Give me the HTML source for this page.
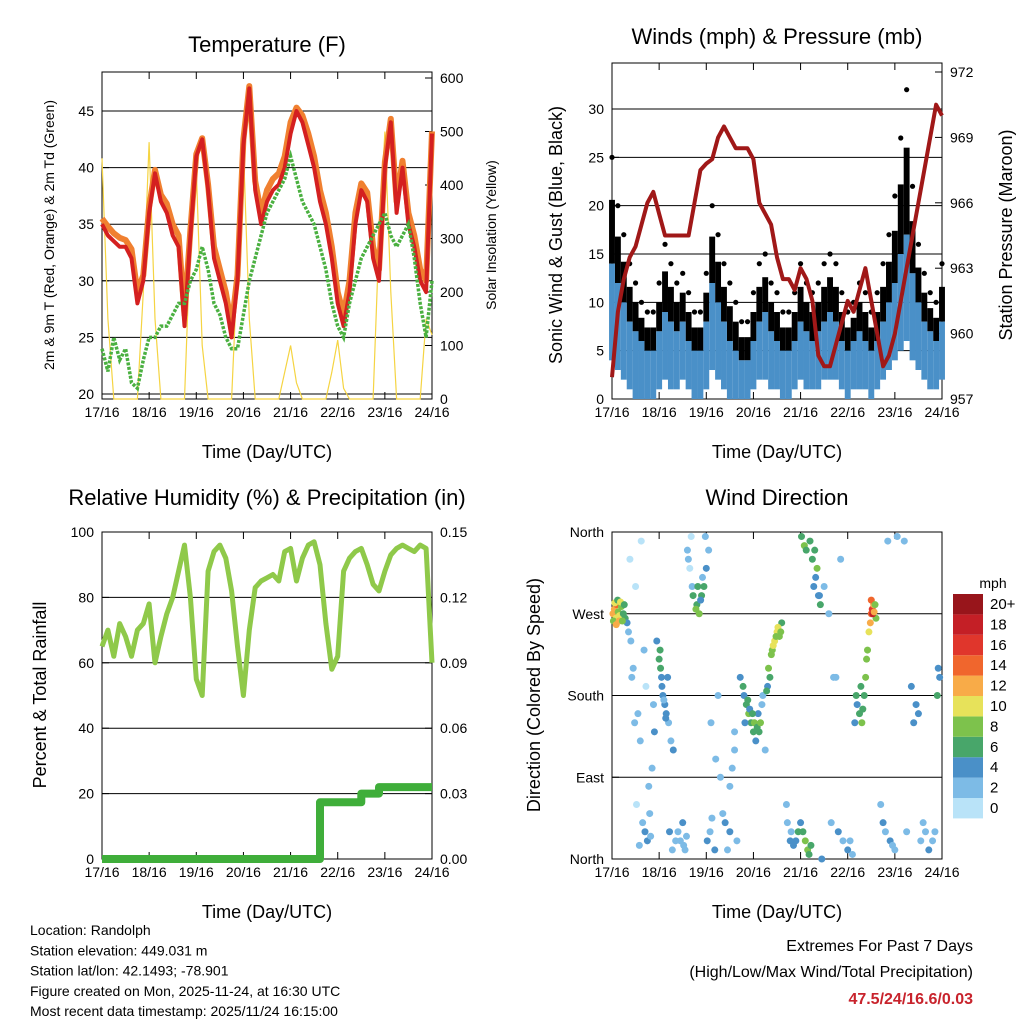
<!DOCTYPE html>
<html><head><meta charset="utf-8">
<style>
html,body{margin:0;padding:0;background:#fff;}
svg{display:block;font-family:"Liberation Sans",sans-serif;}
</style></head>
<body>
<svg id="fig" width="1024" height="1024" viewBox="0 0 1024 1024"></svg>
<script>
// ---------- DATA (3-hour samples starting 17/16 UTC) ----------
const dayLabels = ["17/16","18/16","19/16","20/16","21/16","22/16","23/16","24/16"];
const temp2m = [35,34,33.5,33,33,32,28,30,36,39.5,37,36,34,33,26,34,41,42.5,38,32,30,28,25,30,42,47,38,35,37,38,38.5,40,43,45,44,42,40,37,35,32,28,26,29,35,38,37,32,30,40,44,36,40,35,33,30,29,43];
const temp9m = [35.5,34.8,34.2,33.8,33.6,32.8,29,30.5,36.5,39.8,37.6,36.8,35,34,27,34.5,41.2,42.6,38.5,33,31,29,26,30.5,42.5,47.2,38.8,36,38,39,39.5,41,44,45.3,44.6,43,41,38,36,33,29,27,30,36,38.6,37.8,33,31,40.5,44.3,37,40.6,36,34,31,30,43.2];
const dewpt = [24,22,25,23,24,21,20.5,23,25,25,26,26,27,28,28,30,31,33,31,28,27,25,24,24,27,30,32,34,36,37,38,39,41,39,37,36,35,33,31,28,26,25,28,30,32,33,34,35,36,34,33,34,35,32,28,25,30];
const solar = [450,150,0,0,0,0,0,200,480,150,0,0,0,0,0,300,430,100,0,0,0,0,0,250,470,150,0,0,0,0,0,50,100,30,0,0,0,0,0,50,110,20,0,0,0,0,0,300,500,200,0,0,0,0,0,150,120];
const windLo = [4,3,2,1,0,0,0,0,1,2,1,1,2,1,0,0,1,3,2,1,0,0,0,0,1,2,2,1,1,0,0,1,2,1,1,1,2,2,2,1,0,1,1,1,0,1,2,3,4,5,6,4,3,2,1,1,2];
const windHi = [14,12,10,8,7,6,5,5,7,9,8,7,8,6,5,5,8,12,10,8,6,5,4,4,6,8,9,7,6,5,5,6,8,7,6,7,8,9,8,6,5,6,7,6,5,6,8,10,12,15,17,13,10,8,7,6,8];
const gust = [25,20,17,14,12,10,9,9,12,16,14,12,13,11,9,9,13,20,17,14,12,10,8,8,11,14,15,12,11,9,9,11,14,12,11,12,14,15,14,11,9,10,12,11,9,11,14,17,21,27,32,22,16,13,11,10,14];
const pressure = [958,961,962.5,963.5,964,965,966,966.5,965.5,964.5,964.5,964.5,964.5,964.5,966,967.5,967.8,968,969,969.5,969,968.5,968.5,968.5,968,966,965.5,965,963.5,962.5,962.5,962,963,962.5,961.5,959,958.5,958.5,959.5,960.5,961.5,961,962,963,961.5,960,958.5,959,960,961.5,963,964.5,966,967.5,969,970.5,970];
const rh = [65,70,62,72,68,62,70,72,78,60,68,75,80,88,96,80,55,50,88,94,96,92,82,65,50,70,83,85,86,87,85,94,95,85,92,96,97,90,72,58,62,88,92,94,95,90,84,82,88,93,95,96,95,94,96,95,60];
const precip = [0,0,0,0,0,0,0,0,0,0,0,0,0,0,0,0,0,0,0,0,0,0,0,0,0,0,0,0,0,0,0,0,0,0,0,0,0,0.026,0.026,0.026,0.026,0.026,0.026,0.026,0.03,0.03,0.03,0.033,0.033,0.033,0.033,0.033,0.033,0.033,0.033,0.033,0.033];
// wind direction points: time (days), direction (deg, 0=N), speed (mph)
const dirT = [0.02,0.05,0.08,0.1,0.13,0.16,0.2,0.24,0.28,0.32,0.35,0.4,0.45,0.5,0.55,0.6,0.65,0.7,0.75,0.8,0.85,0.9,1.0,1.02,1.05,1.08,1.12,1.15,1.2,1.25,1.3,1.4,1.45,1.5,1.55,1.6,1.65,1.7,1.8,1.85,1.9,1.95,2.0,2.05,2.1,2.2,2.3,2.4,2.5,2.55,2.6,2.8,2.85,2.9,2.95,3.0,3.05,3.1,3.2,3.25,3.3,3.35,3.4,3.45,3.5,3.55,3.6,3.7,3.8,3.9,4.0,4.05,4.1,4.15,4.2,4.3,4.35,4.4,4.5,4.6,4.7,4.8,4.9,5.0,5.1,5.2,5.25,5.3,5.35,5.4,5.45,5.5,5.52,5.55,5.6,5.7,5.8,5.9,6.0,6.2,6.4,6.45,6.6,6.8,6.9,6.95,
 0.03,0.06,0.09,0.12,0.15,0.18,0.22,0.26,0.38,0.42,0.48,0.52,0.58,0.62,0.68,0.72,0.78,0.82,0.88,0.95,1.03,1.06,1.1,1.14,1.18,1.22,1.28,1.35,1.52,1.58,1.62,1.68,1.72,1.78,1.82,1.88,1.92,1.98,2.02,2.08,2.12,2.18,2.25,2.35,2.45,2.5,2.6,2.65,2.72,2.78,2.82,2.88,2.92,2.98,3.02,3.08,3.12,3.15,3.18,3.28,3.32,3.38,3.42,3.48,3.52,3.58,3.72,3.78,3.85,3.95,4.02,4.08,4.12,4.18,4.22,4.25,4.28,4.32,4.38,4.42,4.45,4.65,4.75,4.85,5.05,5.15,5.18,5.28,5.32,5.38,5.42,5.48,5.5,5.53,5.56,5.58,5.75,5.85,5.95,6.05,6.25,6.35,6.5,6.55,6.65,6.72,6.85,6.92];
const dirD = [270,275,265,280,272,268,278,270,265,260,250,240,210,300,160,130,40,30,20,50,100,140,220,230,200,180,170,160,150,130,120,30,20,40,10,340,320,300,280,270,290,300,320,340,150,110,90,40,30,100,140,180,170,160,150,140,130,160,180,120,190,200,230,240,250,245,260,60,30,20,40,30,20,10,350,340,320,290,300,270,200,30,20,10,5,170,160,150,180,220,250,270,275,280,265,60,30,20,10,350,150,170,40,20,180,200,
 262,282,258,285,262,283,262,280,330,200,150,60,15,350,230,190,80,25,170,240,210,190,175,155,200,30,10,20,15,25,330,355,290,275,300,285,310,355,20,30,45,10,180,50,10,80,120,20,200,190,150,175,165,160,150,145,140,150,170,185,210,225,235,245,255,250,40,20,15,30,355,345,340,5,15,330,300,310,290,280,0,40,200,330,20,150,180,190,165,200,230,260,285,270,272,280,40,350,15,355,30,190,160,20,30,10,30,210];
const dirS = [12,13,10,14,8,11,9,7,6,4,3,2,2,1,3,2,3,4,5,2,3,5,7,6,5,4,5,4,3,2,4,3,2,4,3,2,1,3,7,8,6,7,4,3,2,3,2,4,5,3,2,5,6,8,7,6,5,4,3,2,5,7,9,10,11,8,6,3,2,4,5,6,8,9,7,6,8,5,3,2,3,4,3,5,2,5,6,8,7,9,11,14,16,12,8,3,2,4,3,2,5,4,3,2,6,4,
 9,11,12,7,13,10,8,6,1,2,2,1,3,1,2,1,2,3,3,5,7,4,3,4,5,4,3,2,3,2,2,1,6,8,7,5,3,2,4,3,2,4,3,3,2,3,2,3,4,6,4,7,5,7,8,6,7,8,3,6,8,8,10,9,10,8,3,5,4,6,6,8,7,6,7,6,4,5,4,6,5,3,2,3,2,4,6,7,6,8,9,12,15,18,13,9,4,3,2,2,3,4,4,3,3,4,2,5];
const speedColors = ["#b9e3f8","#7dbbe6","#4a90c8","#48a66a","#7dc24c","#e7e25a","#f8ab48","#f0662d","#e0362c","#c41f26","#98151b"];
const speedLabels = ["0","2","4","6","8","10","12","14","16","18","20+"];

// ---------- helpers ----------
const NS="http://www.w3.org/2000/svg";
const svg=document.getElementById('fig');
function mk(tag,attrs,parent){const e=document.createElementNS(NS,tag);for(const k in attrs)e.setAttribute(k,attrs[k]);(parent||svg).appendChild(e);return e;}
function txt(x,y,s,size,anchor,parent,rot){const e=mk('text',{x:x,y:y,'font-size':size,'text-anchor':anchor||'middle',fill:'#000'},parent);if(rot)e.setAttribute('transform','rotate('+rot+' '+x+' '+y+')');e.textContent=s;return e;}
function lin(d0,d1,r0,r1){return v=>r0+(v-d0)/(d1-d0)*(r1-r0);}
function frame(p,name){
  const g=mk('g',{});
  
  
  mk('rect',{x:p.x0,y:p.y0,width:p.x1-p.x0,height:p.y1-p.y0,fill:'none',stroke:'#000','stroke-width':1},g);
  const xs=lin(0,7,p.x0,p.x1);
  dayLabels.forEach((l,i)=>{
    const x=xs(i);
    mk('line',{x1:x,y1:p.y1,x2:x,y2:p.y1-7,stroke:'#000'},g);
    mk('line',{x1:x,y1:p.y0,x2:x,y2:p.y0+7,stroke:'#000'},g);
    const t=txt(x,p.y1+18,l,14,'middle',g);
    
    
  });
  const xt=txt((p.x0+p.x1)/2,p.y1+59,'Time (Day/UTC)',18,'middle',g);
  
  
  return g;
}
function yticks(p,g,vals,labels,scale,side,grid){
  vals.forEach((v,i)=>{
    const y=scale(v);
    if(grid) mk('line',{x1:p.x0,y1:y,x2:p.x1,y2:y,stroke:'#000','stroke-width':1},g);
    if(side==='left'){mk('line',{x1:p.x0,y1:y,x2:p.x0+7,y2:y,stroke:'#000'},g);txt(p.x0-8,y+5,labels[i],14,'end',g);}
    else {mk('line',{x1:p.x1,y1:y,x2:p.x1-7,y2:y,stroke:'#000'},g);txt(p.x1+8,y+5,labels[i],14,'start',g);}
  });
}
function path(xs,arr,ys){return arr.map((v,i)=>(i?'L':'M')+xs(i).toFixed(1)+' '+ys(v).toFixed(1)).join(' ');}

// ---------- Panel 1: Temperature ----------
(function(){
  const p={x0:102,x1:432,y0:72,y1:399};
  const g=frame(p,'temperature-panel');
  const t=txt(267,52,'Temperature (F)',22,'middle',g);
  
  
  const ys=lin(20,45,394,111), ysr=lin(0,600,399,78), xs=lin(0,56,p.x0,p.x1);
  yticks(p,g,[20,25,30,35,40,45],["20","25","30","35","40","45"],ys,'left',true);
  yticks(p,g,[0,100,200,300,400,500,600],["0","100","200","300","400","500","600"],ysr,'right',false);
  const s=mk('path',{d:path(xs,solar,ysr),fill:'none',stroke:'#f5d442','stroke-width':1.2},g);
  
  
  const o=mk('path',{d:path(xs,temp9m,ys),fill:'none',stroke:'#f08030','stroke-width':6,'stroke-linejoin':'round'},g);
  
  
  const r=mk('path',{d:path(xs,temp2m,ys),fill:'none',stroke:'#d42020','stroke-width':4,'stroke-linejoin':'round'},g);
  
  
  const d=mk('path',{d:path(xs,dewpt,ys),fill:'none',stroke:'#4ab040','stroke-width':3.5,'stroke-dasharray':'3 1.5'},g);
  
  
  const yl=txt(54,235,'2m & 9m T (Red, Orange) & 2m Td (Green)',14,'middle',g,-90);
  
  
  const yr=txt(496,235,'Solar Insolation (Yellow)',14,'middle',g,-90);
  
  
})();

// ---------- Panel 2: Winds & Pressure ----------
(function(){
  const p={x0:612,x1:942,y0:63,y1:399};
  const g=frame(p,'winds-pressure-panel');
  const t=txt(777,44,'Winds (mph) & Pressure (mb)',22,'middle',g);
  
  
  const ys=lin(0,30,399,109), ysr=lin(957,972,399,72), xs=lin(0,56,p.x0,p.x1);
  yticks(p,g,[0,5,10,15,20,25,30],["0","5","10","15","20","25","30"],ys,'left',true);
  yticks(p,g,[957,960,963,966,969,972],["957","960","963","966","969","972"],ysr,'right',false);
  const w=5.9;
  gust.forEach((v,i)=>{
    const x=xs(i);
    const top=windHi[i]+(v-windHi[i])*0.6;
    const b=mk('rect',{x:x-w/2,y:ys(top),width:w,height:ys(windHi[i])-ys(top),fill:'#000'},g);
    
    
    const c=mk('circle',{cx:x,cy:ys(v),r:2.6,fill:'#000'},g);
    
    
  });
  windHi.forEach((v,i)=>{
    const x=xs(i);
    const b=mk('rect',{x:x-w/2,y:ys(v),width:w,height:ys(windLo[i])-ys(v),fill:'#4a90c8'},g);
    
    
  });
  const pr=mk('path',{d:path(xs,pressure,ysr),fill:'none',stroke:'#a01818','stroke-width':4,'stroke-linejoin':'round'},g);
  
  
  const yl=txt(562,235,'Sonic Wind & Gust (Blue, Black)',18,'middle',g,-90);
  
  
  const yr=txt(1012,235,'Station Pressure (Maroon)',18,'middle',g,-90);
  
  
})();

// ---------- Panel 3: RH & Precip ----------
(function(){
  const p={x0:102,x1:432,y0:532,y1:859};
  const g=frame(p,'humidity-precip-panel');
  const t=txt(267,505,'Relative Humidity (%) & Precipitation (in)',22,'middle',g);
  
  
  const ys=lin(0,100,859,532), ysr=lin(0,0.15,859,532), xs=lin(0,56,p.x0,p.x1);
  yticks(p,g,[0,20,40,60,80,100],["0","20","40","60","80","100"],ys,'left',true);
  yticks(p,g,[0,0.03,0.06,0.09,0.12,0.15],["0.00","0.03","0.06","0.09","0.12","0.15"],ysr,'right',false);
  const r=mk('path',{d:path(xs,rh,ys),fill:'none',stroke:'#8fc94a','stroke-width':5,'stroke-linejoin':'round'},g);
  
  
  let d='';
  precip.forEach((v,i)=>{d+=(i?'L'+xs(i).toFixed(1)+' '+ysr(precip[i-1]).toFixed(1)+' L':'M')+xs(i).toFixed(1)+' '+ysr(v).toFixed(1)+' ';});
  const pc=mk('path',{d:d,fill:'none',stroke:'#3fae3a','stroke-width':8,'stroke-linejoin':'round'},g);
  
  
  const yl=txt(46,695,'Percent & Total Rainfall',18,'middle',g,-90);
  
  
})();

// ---------- Panel 4: Wind Direction ----------
(function(){
  const p={x0:612,x1:942,y0:532,y1:859};
  const g=frame(p,'wind-direction-panel');
  const t=txt(777,505,'Wind Direction',22,'middle',g);
  
  
  const ys=lin(0,360,859,532), xs=lin(0,7,p.x0,p.x1);
  yticks(p,g,[0,90,180,270,360],["North","East","South","West","North"],ys,'left',true);
  dirT.forEach((tv,i)=>{
    const ci=Math.min(10,Math.floor(dirS[i]/2));
    const c=mk('circle',{cx:xs(tv),cy:ys(dirD[i]),r:3.5,fill:speedColors[ci]},g);
    
    
  });
  const yl=txt(540,695,'Direction (Colored By Speed)',18,'middle',g,-90);
  
  
  const lg=mk('g',{},g);
  
  
  txt(993,588,'mph',14,'middle',lg);
  speedColors.forEach((c,i)=>{
    const y=798-i*20.4;
    mk('rect',{x:953,y:y,width:30,height:20.4,fill:c},lg);
    txt(990,y+15,speedLabels[i],15,'start',lg);
  });
})();

// ---------- footer text ----------
(function(){
  const g=mk('g',{});
  
  
  ["Location: Randolph","Station elevation: 449.031 m","Station lat/lon: 42.1493; -78.901","Figure created on Mon, 2025-11-24, at 16:30 UTC","Most recent data timestamp: 2025/11/24 16:15:00"].forEach((s,i)=>txt(30,935+i*20.3,s,14,'start',g));
  const e=mk('g',{});
  
  
  txt(973,951,'Extremes For Past 7 Days',16,'end',e);
  txt(973,977,'(High/Low/Max Wind/Total Precipitation)',16,'end',e);
  const v=txt(973,1004,'47.5/24/16.6/0.03',16,'end',e);
  v.setAttribute('fill','#c8232c');v.setAttribute('font-weight','bold');
})();
</script>
</body></html>
